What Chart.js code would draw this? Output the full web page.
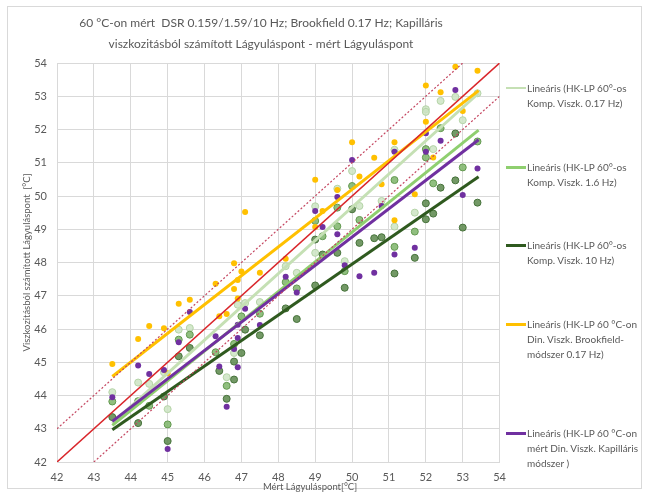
<!DOCTYPE html>
<html>
<head>
<meta charset="utf-8">
<script src="https://cdn.jsdelivr.net/npm/chart.js@4.4.1/dist/chart.umd.min.js"></script>
<style>
body { margin: 0; background: #fff; font-family: Lato, "Open Sans", sans-serif; }
#wrap { position: relative; width: 647px; height: 494px; overflow: hidden; }
#frame { position: absolute; left: 7px; top: 6px; width: 633px; height: 481px; border: 1px solid #d9d9d9; }
#box { position: absolute; left: 0; top: 0; width: 515px; height: 494px; }
#xtitle { position: absolute; top: 481px; left: 230px; width: 160px; text-align: center; font-size: 9.5px; color: #595959; }
.item { position: absolute; left: 506px; display: flex; align-items: flex-start; font-size: 10px; color: #595959; line-height: 15px; white-space: nowrap; }
.sw { width: 20px; height: 3px; margin-top: 6px; margin-right: 1px; flex: none; }
</style>
</head>
<body>
<div id="wrap">
  <div id="frame"></div>
  <div id="box"><canvas id="chart" width="515" height="494"></canvas></div>
  <div id="xtitle">Mért Lágyuláspont[°C]</div>
  <div id="legend"></div>
</div>
<script>
// measured softening point (x) / calculated softening point (y), per series
var xPale = [43.5, 44.2, 44.5, 44.9, 45.0, 45.3, 45.6, 46.6, 46.8, 46.9, 47.1, 47.5, 48.2, 48.5, 49.0, 49.0, 49.6, 49.8, 50.0, 50.2, 50.8, 51.15, 51.15, 51.7, 52.0, 52.0, 52.2, 52.4, 52.8, 53.0, 53.4];
var yPale = [44.1, 44.39, 44.35, 44.7, 43.59, 45.98, 46.03, 44.55, 45.28, 46.73, 46.78, 46.81, 47.89, 47.69, 49.69, 48.29, 50.22, 48.04, 50.75, 49.7, 49.85, 51.39, 49.08, 49.5, 52.61, 52.53, 51.41, 52.86, 52.98, 52.28, 53.09];

var xMid = [43.5, 44.2, 44.5, 45.0, 45.3, 45.6, 46.3, 46.6, 46.8, 47.0, 47.5, 48.2, 48.5, 49.0, 49.2, 49.6, 49.6, 49.8, 50.0, 50.2, 51.15, 51.15, 51.7, 52.0, 52.0, 52.2, 52.4, 53.0, 53.4];
var yMid = [43.82, 43.83, 43.69, 43.13, 45.68, 45.83, 45.3, 44.29, 45.55, 46.38, 46.46, 47.41, 47.22, 49.25, 48.79, 49.65, 49.09, 47.74, 50.3, 49.28, 50.48, 48.47, 48.93, 51.41, 51.16, 50.38, 52.04, 50.86, 51.64];

var xDark = [43.5, 44.2, 44.9, 45.0, 45.3, 45.6, 46.4, 46.6, 46.8, 46.8, 47.0, 47.1, 47.5, 48.2, 48.5, 49.0, 49.0, 49.2, 49.6, 49.8, 50.0, 50.2, 50.6, 50.8, 51.15, 51.7, 52.0, 52.0, 52.2, 52.4, 52.8, 52.8, 53.0, 53.4];
var yDark = [43.35, 43.17, 43.97, 42.63, 45.18, 45.43, 44.74, 43.9, 45.02, 44.48, 45.28, 45.98, 45.81, 46.62, 46.3, 48.69, 47.31, 48.24, 48.29, 47.24, 49.6, 48.59, 48.73, 48.76, 47.67, 48.14, 49.78, 49.3, 49.47, 50.25, 51.88, 50.47, 49.05, 49.8];

var xBrook = [43.5, 44.2, 44.5, 44.9, 45.0, 45.3, 45.6, 46.3, 46.4, 46.6, 46.8, 46.8, 46.9, 46.9, 47.0, 47.1, 47.5, 48.2, 49.0, 49.0, 49.2, 49.6, 50.0, 50.2, 50.6, 50.8, 51.15, 51.15, 51.7, 52.0, 52.0, 52.2, 52.4, 52.8, 53.0, 53.4];
var yBrook = [44.95, 45.7, 46.09, 46.02, 44.67, 46.76, 46.88, 47.36, 46.38, 46.45, 47.98, 47.2, 47.47, 46.92, 47.73, 49.52, 47.69, 48.11, 50.49, 49.07, 49.55, 50.18, 51.62, 50.59, 51.15, 50.35, 51.62, 49.27, 50.05, 53.32, 52.23, 51.16, 53.12, 53.89, 52.56, 53.77];

var xKap = [43.5, 44.2, 44.5, 44.9, 45.0, 45.3, 45.6, 46.3, 46.4, 46.6, 46.8, 46.9, 46.9, 46.9, 47.1, 47.5, 48.2, 48.5, 49.0, 49.2, 49.6, 49.6, 49.8, 50.0, 50.2, 50.6, 50.8, 51.15, 51.15, 51.7, 52.0, 52.0, 52.4, 52.8, 53.0, 53.4];
var yKap = [43.95, 44.9, 44.65, 44.77, 42.39, 45.6, 46.51, 45.78, 44.87, 43.66, 45.4, 46.13, 45.73, 44.85, 46.61, 46.12, 47.57, 47.1, 49.55, 49.07, 49.97, 48.85, 47.92, 51.08, 47.59, 47.69, 49.7, 51.33, 48.24, 48.44, 51.89, 51.33, 51.66, 53.19, 50.03, 50.83];

// linear trend lines, read at both ends
var trendX = [43.5, 53.43];
var trendPale = [43.17, 53.09];
var trendMid = [43.1, 51.98];
var trendDark = [42.97, 50.58];
var trendBrook = [44.57, 53.17];
var trendKap = [43.22, 51.69];

// y = x and the +/- 1 °C band
var idealX = [42, 54], idealY = [42, 54];
var upperX = [42, 53], upperY = [43, 54];
var lowerX = [43, 54], lowerY = [42, 53];

var axisTicks = [42, 54, 1];

var legendLabels = [
    ['Lineáris (HK-LP 60°-os', 'Komp. Viszk. 0.17 Hz)'],
    ['Lineáris (HK-LP 60°-os', 'Komp. Viszk. 1.6 Hz)'],
    ['Lineáris (HK-LP 60°-os', 'Komp. Viszk. 10 Hz)'],
    ['Lineáris (HK-LP 60 °C-on', 'Din. Viszk. Brookfield-', 'módszer  0.17 Hz)'],
    ['Lineáris (HK-LP 60 °C-on', 'mért Din. Viszk. Kapilláris', 'módszer )']
];
var legendColors = ['#c5e0b4', '#8fcf6f', '#2f5a1f', '#ffc000', '#7030a0'];
var legendTops = [81, 160, 238, 317, 426];
var legendWidths = [2, 3, 3, 3, 3];

function pts(xs, ys) {
    var out = [];
    for (var i = 0; i < xs.length; i++) out.push({x: xs[i], y: ys[i]});
    return out;
}

function trend(ys, color) {
    return { type: 'line', data: pts(trendX, ys), borderColor: color, borderWidth: 3,
             pointRadius: 0, fill: false, order: 1 };
}

function dots(xs, ys, bg, border, r, bw) {
    return { type: 'scatter', data: pts(xs, ys), backgroundColor: bg, borderColor: border,
             borderWidth: bw, pointRadius: r, order: 2 };
}

var grey = '#595959';
var gridc = '#d9d9d9';

var ctx = document.getElementById('chart');
var myChart = new Chart(ctx, {
    type: 'scatter',
    data: {
        datasets: [
            { type: 'line', data: pts(idealX, idealY), borderColor: '#d9262b', borderWidth: 1.5, pointRadius: 0, order: 0 },
            { type: 'line', data: pts(upperX, upperY), borderColor: '#c44660', borderWidth: 1.2, borderDash: [2, 2], pointRadius: 0, order: 0 },
            { type: 'line', data: pts(lowerX, lowerY), borderColor: '#c44660', borderWidth: 1.2, borderDash: [2, 2], pointRadius: 0, order: 0 },
            trend(trendKap, '#7030a0'),
            trend(trendBrook, '#ffc000'),
            trend(trendDark, '#2f5a1f'),
            trend(trendMid, '#8fcf6f'),
            trend(trendPale, '#c5e0b4'),
            dots(xKap, yKap, '#7030a0', '#7030a0', 3, 0),
            dots(xBrook, yBrook, '#ffc000', '#ffc000', 3, 0),
            dots(xDark, yDark, 'rgba(90,135,75,0.85)', '#46723a', 3.5, 1),
            dots(xMid, yMid, 'rgba(125,180,105,0.85)', '#62984f', 3.5, 1),
            dots(xPale, yPale, 'rgba(205,228,195,0.85)', '#b4d3a6', 3.5, 1)
        ]
    },
    options: {
        responsive: false,
        animation: false,
        devicePixelRatio: 1,
        layout: { padding: { left: 21, right: 14, top: 0, bottom: 4 } },
        plugins: {
            legend: { display: false },
            tooltip: { enabled: false },
            title: {
                display: true,
                text: ['60 °C-on mért  DSR 0.159/1.59/10 Hz; Brookfield 0.17 Hz; Kapilláris',
                       'viszkozitásból számított Lágyuláspont - mért Lágyuláspont'],
                color: grey,
                font: { family: 'Lato', size: 12, weight: 'normal', lineHeight: 1.75 },
                padding: { top: 13, bottom: 8 }
            }
        },
        scales: {
            x: {
                type: 'linear', min: axisTicks[0], max: axisTicks[1],
                ticks: { stepSize: axisTicks[2], color: grey, padding: 9, font: { family: 'Lato', size: 11 } },
                grid: { color: gridc, drawTicks: false },
                border: { color: gridc },
                afterFit: function(s) { s.height = 28; }
            },
            y: {
                type: 'linear', min: axisTicks[0], max: axisTicks[1],
                ticks: { stepSize: axisTicks[2], color: grey, padding: 10, font: { family: 'Lato', size: 11 } },
                grid: { color: gridc, drawTicks: false },
                border: { color: gridc },
                title: { display: true, text: 'Viszkozitásból számított Lágyuláspont  [°C]', color: grey,
                         font: { family: 'Lato', size: 9.5 }, padding: { top: 0, bottom: 0 } },
                afterFit: function(s) { s.width = 36; }
            }
        }
    }
});

// legend on the right, only the trend lines
var lg = document.getElementById('legend');
legendLabels.forEach(function(lines, i) {
    var d = document.createElement('div');
    d.className = 'item';
    d.style.top = legendTops[i] + 'px';
    d.innerHTML = '<span class="sw" style="background:' + legendColors[i] + ';height:' + legendWidths[i] + 'px"></span>' +
        '<span>' + lines.join('<br>') + '</span>';
    lg.appendChild(d);
});
</script>
</body>
</html>
